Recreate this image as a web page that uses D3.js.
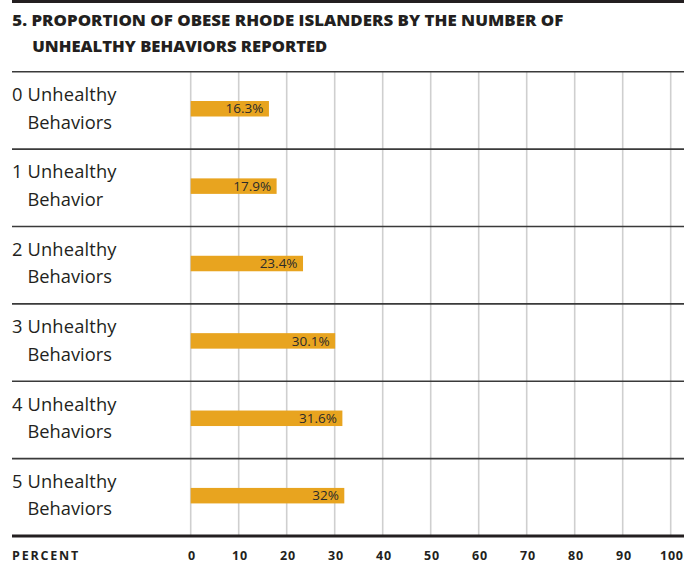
<!DOCTYPE html>
<html>
<head>
<meta charset="utf-8">
<script src="https://cdn.jsdelivr.net/npm/d3@7"></script>
<style>
  html, body { margin: 0; padding: 0; background: #fff; }
  svg { display: block; }
</style>
</head>
<body>
<svg id="chart" width="695" height="564"></svg>
<script>
// Obesity share by number of unhealthy behaviors reported
const categoryLine1 = ["0 Unhealthy", "1 Unhealthy", "2 Unhealthy", "3 Unhealthy", "4 Unhealthy", "5 Unhealthy"];
const categoryLine2 = ["Behaviors", "Behavior", "Behaviors", "Behaviors", "Behaviors", "Behaviors"];
const values = [16.3, 17.9, 23.4, 30.1, 31.6, 32];
const valueLabels = ["16.3%", "17.9%", "23.4%", "30.1%", "31.6%", "32%"];
const tickValues = [0, 10, 20, 30, 40, 50, 60, 70, 80, 90, 100];
const titleLines = ["5. PROPORTION OF OBESE RHODE ISLANDERS BY THE NUMBER OF", "UNHEALTHY BEHAVIORS REPORTED"];
const axisTitle = "PERCENT";

const svg = d3.select("#chart");
const ink = "#231f20";
const barColor = "#e8a41f";
const left = 12, right = 684;
const plotTop = 71.7, plotBottom = 536;

const x = d3.scaleLinear().domain([0, 100]).range([190.7, 670.7]);
const y = d3.scaleBand().domain(d3.range(values.length)).range([plotTop, plotBottom]);

// top rule
svg.append("line").attr("x1", left).attr("x2", right).attr("y1", 1.5).attr("y2", 1.5)
  .attr("stroke", ink).attr("stroke-width", 3);

// title
const titleX = [12.3, 32.3];
const titleY = [25.7, 52];
const titleLen = [551, 295];
titleLines.forEach((t, i) => {
  svg.append("text").attr("x", titleX[i]).attr("y", titleY[i])
    .attr("font-family", "'Open Sans', sans-serif").attr("font-weight", 800)
    .attr("font-size", 15.5).attr("fill", ink)
    .attr("textLength", titleLen[i]).attr("lengthAdjust", "spacingAndGlyphs")
    .text(t);
});

// vertical gridlines
svg.append("g").selectAll("line").data(tickValues).join("line")
  .attr("x1", d => x(d)).attr("x2", d => x(d))
  .attr("y1", plotTop).attr("y2", plotBottom)
  .attr("stroke", "#cfcfcf").attr("stroke-width", 1.6);

// row separators
svg.append("g").selectAll("line").data(d3.range(values.length)).join("line")
  .attr("x1", left).attr("x2", right)
  .attr("y1", d => y(d)).attr("y2", d => y(d))
  .attr("stroke", "#3a3a3a").attr("stroke-width", 1.6);

// axis baseline
svg.append("line").attr("x1", left).attr("x2", right)
  .attr("y1", plotBottom).attr("y2", plotBottom)
  .attr("stroke", ink).attr("stroke-width", 2.8);

// bars
const barOffset = 29.3, barH = 15.5;
svg.append("g").selectAll("rect").data(values).join("rect")
  .attr("x", x(0)).attr("y", (d, i) => y(i) + barOffset)
  .attr("width", d => x(d) - x(0)).attr("height", barH)
  .attr("fill", barColor);

// value labels inside bars
svg.append("g").selectAll("text").data(values).join("text")
  .attr("x", d => x(d) - 5.5).attr("y", (d, i) => y(i) + barOffset + 12.4)
  .attr("text-anchor", "end")
  .attr("font-family", "'Open Sans', sans-serif").attr("font-size", 13.5)
  .attr("fill", "#2b2b2b")
  .text((d, i) => valueLabels[i]);

// category labels
const cat = svg.append("g").attr("font-family", "'Open Sans', sans-serif")
  .attr("font-size", 18.3).attr("fill", ink);
cat.selectAll("text.l1").data(categoryLine1).join("text").attr("class", "l1")
  .attr("x", 12).attr("y", (d, i) => y(i) + 29.3)
  .attr("textLength", 104.5).attr("lengthAdjust", "spacing").text(d => d);
cat.selectAll("text.l2").data(categoryLine2).join("text").attr("class", "l2")
  .attr("x", 27.5).attr("y", (d, i) => y(i) + 56.8).text(d => d);

// axis title and tick labels
svg.append("text").attr("x", 12).attr("y", 560)
  .attr("font-family", "'Open Sans', sans-serif").attr("font-weight", 700)
  .attr("font-size", 12.5).attr("letter-spacing", 1.8).attr("fill", ink).text(axisTitle);

svg.append("g").selectAll("text").data(tickValues).join("text")
  .attr("x", d => x(d) + 1.2).attr("y", 560)
  .attr("text-anchor", "middle")
  .attr("font-family", "'Open Sans', sans-serif").attr("font-weight", 700)
  .attr("font-size", 12.5).attr("letter-spacing", 0.8).attr("fill", ink)
  .text(d => d);
</script>
</body>
</html>
